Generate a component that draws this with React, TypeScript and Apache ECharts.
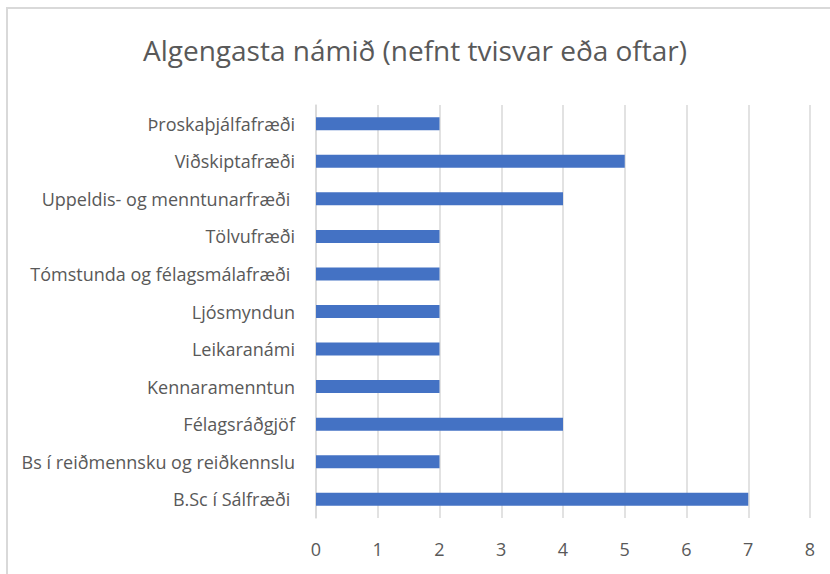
import React, { useEffect, useRef } from "react";
import * as echarts from "echarts";

const categories = [
  "B.Sc í Sálfræði ",
  "Bs í reiðmennsku og reiðkennslu",
  "Félagsráðgjöf",
  "Kennaramenntun",
  "Leikaranámi",
  "Ljósmyndun",
  "Tómstunda og félagsmálafræði ",
  "Tölvufræði",
  "Uppeldis- og menntunarfræði ",
  "Viðskiptafræði",
  "Þroskaþjálfafræði",
];
const values = [7, 2, 4, 2, 2, 2, 2, 2, 4, 5, 2];
const titleText = "Algengasta námið (nefnt tvisvar eða oftar)";

const FONT = "'Open Sans', 'Noto Sans', sans-serif";

export default function App() {
  const ref = useRef<HTMLDivElement>(null);
  useEffect(() => {
    document.body.style.margin = "0";
    const chart = echarts.init(ref.current!, null, { renderer: "svg" });
    chart.setOption({
      animation: false,
      backgroundColor: "#ffffff",
      title: {
        text: titleText,
        left: "center",
        top: 31,
        textStyle: { fontFamily: FONT, fontSize: 28, fontWeight: "normal", color: "#595959" },
      },
      graphic: [
        { type: "line", shape: { x1: 6, y1: 8, x2: 840, y2: 8 }, style: { stroke: "#d9d9d9", lineWidth: 2 } },
        { type: "line", shape: { x1: 7, y1: 8, x2: 7, y2: 600 }, style: { stroke: "#d9d9d9", lineWidth: 2 } },
      ],
      grid: { left: 316, right: 20, top: 105, bottom: 56, containLabel: false },
      xAxis: {
        type: "value",
        min: 0,
        max: 8,
        interval: 1,
        axisLine: { show: false },
        axisTick: { show: false },
        splitLine: { show: true, lineStyle: { color: "#d9d9d9", width: 1.5 } },
        axisLabel: { fontFamily: FONT, fontSize: 18, color: "#595959", margin: 22 },
      },
      yAxis: {
        type: "category",
        data: categories,
        axisLine: { show: true, lineStyle: { color: "#d9d9d9", width: 1.5 } },
        axisTick: { show: false },
        axisLabel: { fontFamily: FONT, fontSize: 18, color: "#595959", margin: 21 },
      },
      series: [
        {
          type: "bar",
          data: values,
          barWidth: 13,
          itemStyle: { color: "#4472C4" },
        },
      ],
    });
    return () => chart.dispose();
  }, []);
  return <div ref={ref} style={{ width: 830, height: 574 }} />;
}
